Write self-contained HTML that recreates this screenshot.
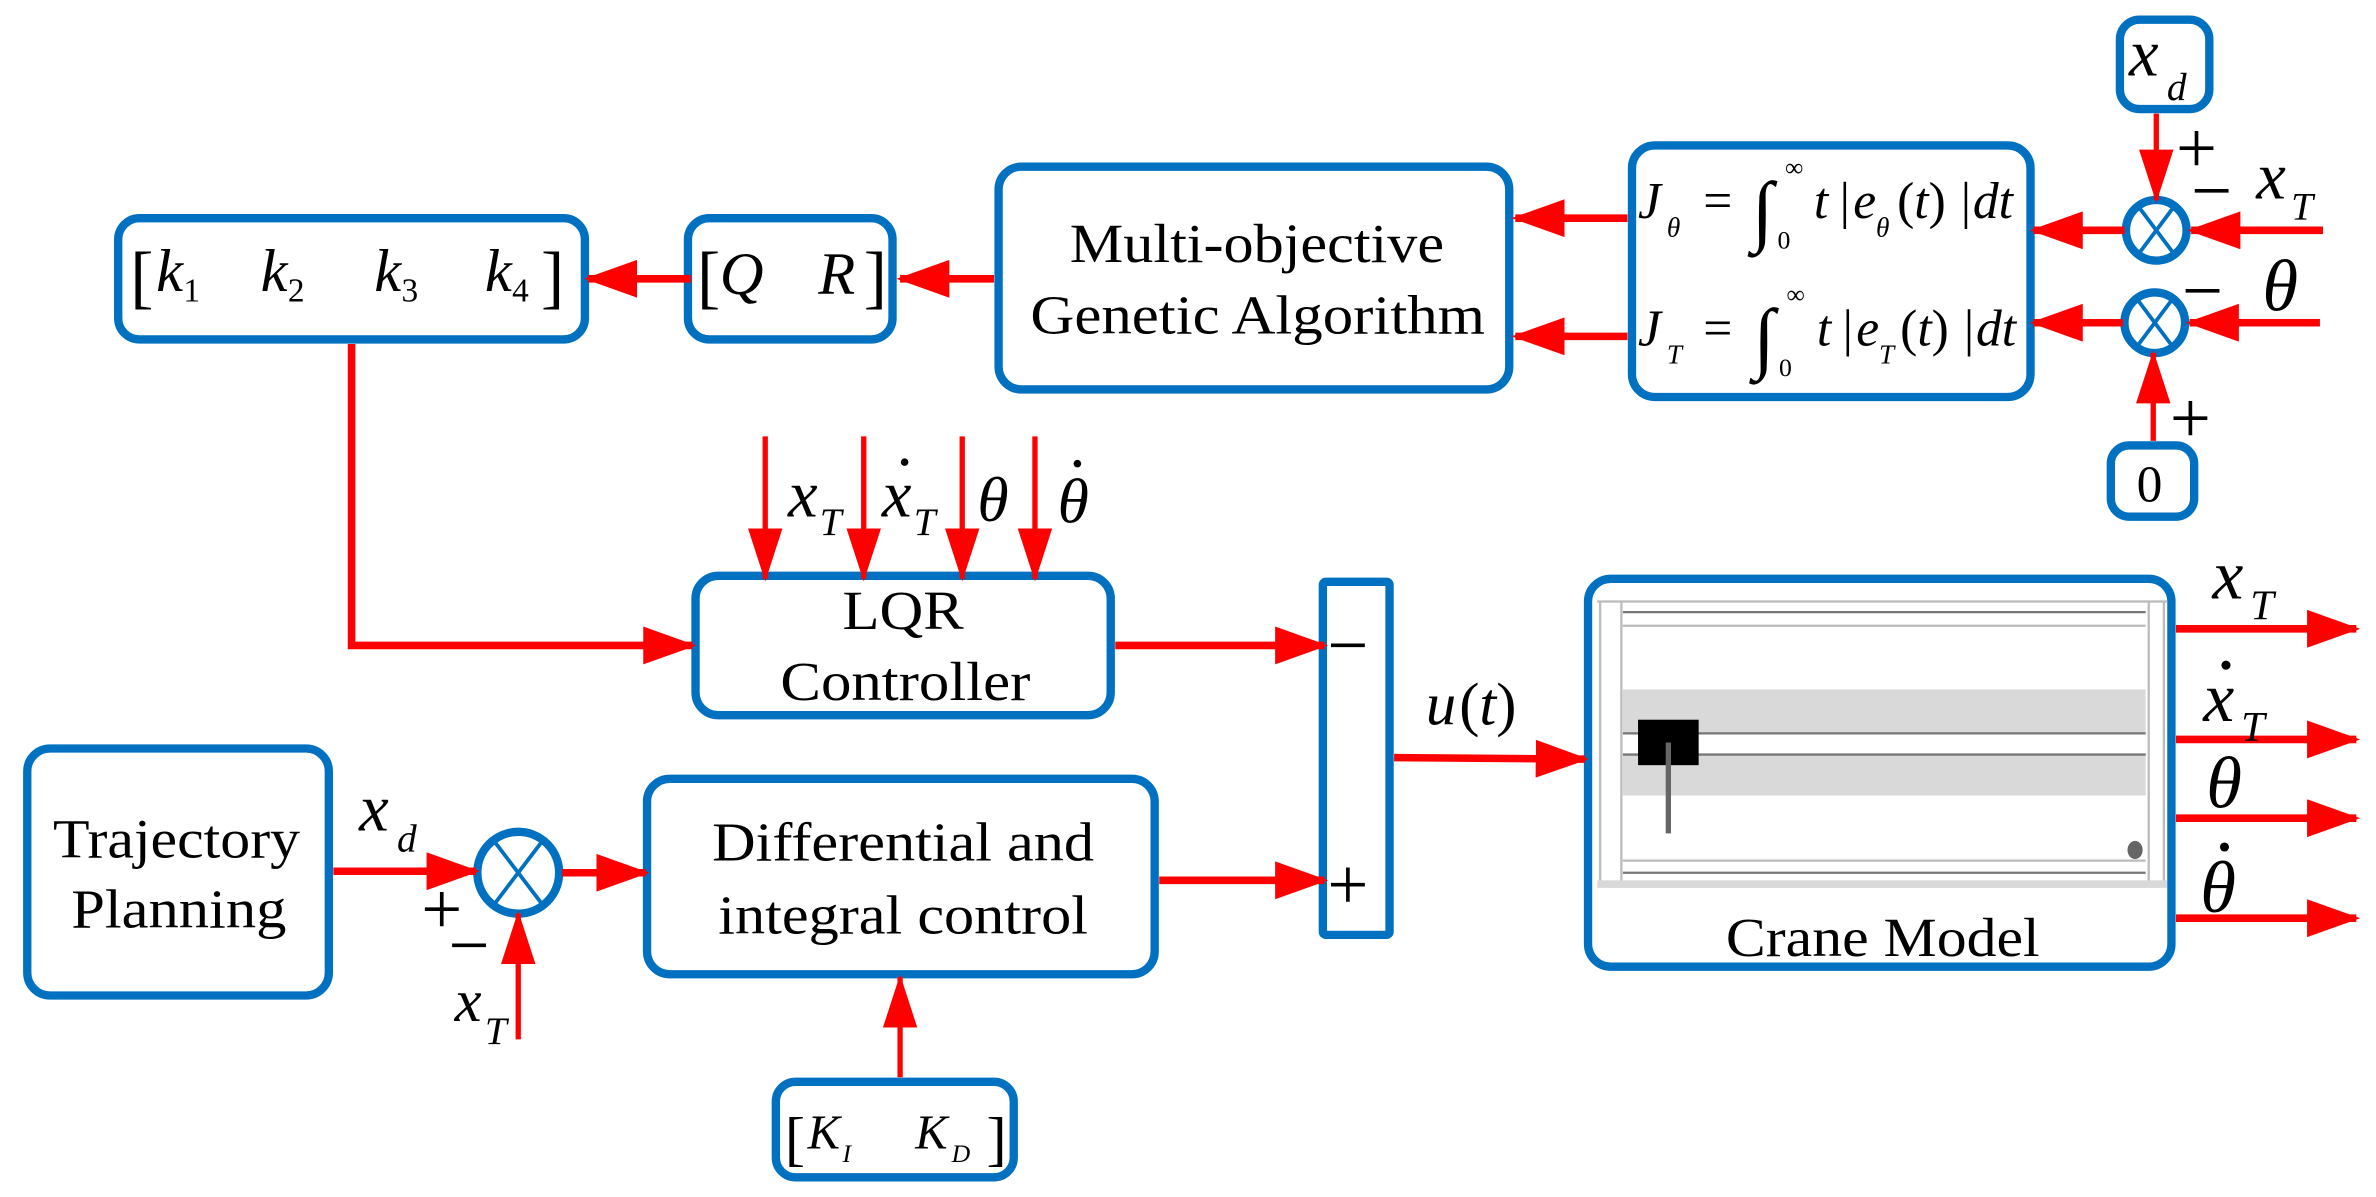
<!DOCTYPE html>
<html><head><meta charset="utf-8"><style>
html,body{margin:0;padding:0;background:#fff;}
svg{display:block;font-family:"Liberation Serif","Times New Roman",Times,"DejaVu Serif",serif;}
svg text{font-family:"Liberation Serif","Times New Roman",Times,"DejaVu Serif",serif;fill:#000;}
.i{font-style:italic;}
</style></head><body>
<svg width="2376" height="1197" viewBox="0 0 1568 790" preserveAspectRatio="none" xmlns="http://www.w3.org/2000/svg">
<defs>
<marker id="a" markerWidth="7" markerHeight="5" refX="6.5" refY="2.5" orient="auto" markerUnits="strokeWidth"><path d="M0,0 L7,2.5 L0,5 Z" fill="#f00"/></marker>
<marker id="b" markerWidth="10" markerHeight="6.5" refX="9.5" refY="3.25" orient="auto" markerUnits="strokeWidth"><path d="M0,0 L10,3.25 L0,6.5 Z" fill="#f00"/></marker>
</defs>
<g fill="none" stroke="#0070c0" stroke-width="5.5">
<rect x="78" y="144" width="308" height="80" rx="14"/>
<rect x="454" y="144" width="135" height="80" rx="14"/>
<rect x="659" y="110" width="337" height="147" rx="15"/>
<rect x="1077" y="96" width="263" height="166" rx="15"/>
<rect x="1399" y="13" width="59" height="59" rx="13"/>
<rect x="1393" y="294" width="55" height="47" rx="12"/>
<rect x="459" y="380" width="274" height="92" rx="15"/>
<rect x="18" y="494" width="199" height="163" rx="15"/>
<rect x="427" y="514" width="335" height="129" rx="15"/>
<rect x="512" y="714" width="157" height="63" rx="13"/>
<rect x="873" y="384" width="44" height="233" rx="2"/>
<rect x="1048" y="382" width="385" height="256" rx="15"/>
<circle cx="1423" cy="152" r="20"/>
<circle cx="1422" cy="213" r="20"/>
<circle cx="342" cy="576" r="27"/>
</g>
<g stroke="#0070c0" stroke-width="2.5">
<path d="M1411,136 L1435,168 M1435,136 L1411,168"/>
<path d="M1410,197 L1434,229 M1434,197 L1410,229"/>
<path d="M326,555 L358,597 M358,555 L326,597"/>
</g>
<g>
<rect x="1054" y="396" width="376" height="190" fill="#fff"/>
<rect x="1071" y="455" width="345" height="70" fill="#d9d9d9"/>
<rect x="1071" y="484" width="345" height="14" fill="#fff"/>
<g stroke="#777" stroke-width="1.5">
<line x1="1071" y1="484" x2="1416" y2="484"/><line x1="1071" y1="498" x2="1416" y2="498"/>
<line x1="1071" y1="404" x2="1416" y2="404"/><line x1="1071" y1="576" x2="1416" y2="576"/>
</g>
<g stroke="#bbb" stroke-width="1.5">
<line x1="1054" y1="397" x2="1430" y2="397"/><line x1="1071" y1="413" x2="1416" y2="413"/>
<line x1="1071" y1="568" x2="1416" y2="568"/>
<line x1="1056" y1="397" x2="1056" y2="584"/><line x1="1070" y1="397" x2="1070" y2="584"/>
<line x1="1418" y1="397" x2="1418" y2="584"/><line x1="1428" y1="397" x2="1428" y2="584"/>
</g>
<rect x="1054" y="581" width="376" height="5" fill="#d9d9d9"/>
<rect x="1081" y="475" width="40" height="30" fill="#000"/>
<line x1="1101" y1="490" x2="1101" y2="550" stroke="#666" stroke-width="3.5"/>
<ellipse cx="1409" cy="561" rx="5" ry="6" fill="#666"/>
</g>
<g stroke="#f00" stroke-width="5" fill="none">
<line x1="456" y1="184" x2="388" y2="184" marker-end="url(#a)"/>
<line x1="656" y1="184" x2="594" y2="184" marker-end="url(#a)"/>
<line x1="1074" y1="144" x2="1000" y2="144" marker-end="url(#a)"/>
<line x1="1074" y1="222" x2="1000" y2="222" marker-end="url(#a)"/>
<line x1="1402" y1="152" x2="1342" y2="152" marker-end="url(#a)"/>
<line x1="1401" y1="213" x2="1342" y2="213" marker-end="url(#a)"/>
<line x1="1533" y1="152" x2="1446" y2="152" marker-end="url(#a)"/>
<line x1="1531" y1="213" x2="1445" y2="213" marker-end="url(#a)"/>
<polyline points="232,227 232,426 457,426" marker-end="url(#a)"/>
<line x1="736" y1="426" x2="874" y2="426" marker-end="url(#a)"/>
<line x1="765" y1="581" x2="874" y2="581" marker-end="url(#a)"/>
<line x1="920" y1="500" x2="1046" y2="501" marker-end="url(#a)"/>
<line x1="220" y1="575" x2="314" y2="575" marker-end="url(#a)"/>
<line x1="371" y1="576" x2="426" y2="576" marker-end="url(#a)"/>
<line x1="1436" y1="415" x2="1555" y2="415" marker-end="url(#a)"/>
<line x1="1436" y1="488" x2="1555" y2="488" marker-end="url(#a)"/>
<line x1="1436" y1="540" x2="1555" y2="540" marker-end="url(#a)"/>
<line x1="1436" y1="606" x2="1555" y2="606" marker-end="url(#a)"/>
</g>
<g stroke="#f00" stroke-width="3.5" fill="none">
<line x1="505" y1="288" x2="505" y2="382" marker-end="url(#b)"/>
<line x1="570" y1="288" x2="570" y2="382" marker-end="url(#b)"/>
<line x1="635" y1="288" x2="635" y2="382" marker-end="url(#b)"/>
<line x1="683" y1="288" x2="683" y2="382" marker-end="url(#b)"/>
<line x1="1423" y1="75" x2="1423" y2="132" marker-end="url(#b)"/>
<line x1="1421" y1="291" x2="1421" y2="233" marker-end="url(#b)"/>
<line x1="342" y1="686" x2="342" y2="603" marker-end="url(#b)"/>
<line x1="594" y1="711" x2="594" y2="645" marker-end="url(#b)"/>
</g>
<g font-size="36">
<text x="706" y="173" textLength="247" lengthAdjust="spacingAndGlyphs">Multi-objective</text>
<text x="680" y="220" textLength="300" lengthAdjust="spacingAndGlyphs">Genetic Algorithm</text>
<text x="556" y="415" textLength="80" lengthAdjust="spacingAndGlyphs">LQR</text>
<text x="515" y="462" textLength="165" lengthAdjust="spacingAndGlyphs">Controller</text>
<text x="35" y="566" textLength="163" lengthAdjust="spacingAndGlyphs">Trajectory</text>
<text x="47" y="612" textLength="142" lengthAdjust="spacingAndGlyphs">Planning</text>
<text x="470" y="568" textLength="252" lengthAdjust="spacingAndGlyphs">Differential and</text>
<text x="474" y="616" textLength="244" lengthAdjust="spacingAndGlyphs">integral control</text>
<text x="1139" y="631" textLength="207" lengthAdjust="spacingAndGlyphs">Crane Model</text>
</g>
<g font-size="40">
<text x="86" y="198" font-size="46">[</text>
<text x="103" y="192" class="i">k</text><text x="121" y="199" font-size="22">1</text>
<text x="172" y="192" class="i">k</text><text x="190" y="199" font-size="22">2</text>
<text x="247" y="192" class="i">k</text><text x="265" y="199" font-size="22">3</text>
<text x="320" y="192" class="i">k</text><text x="338" y="199" font-size="22">4</text>
<text x="357" y="198" font-size="46">]</text>
<text x="460" y="198" font-size="46">[</text>
<text x="475" y="194" class="i">Q</text>
<text x="540" y="194" class="i">R</text>
<text x="570" y="198" font-size="46">]</text>
<text x="518" y="765" font-size="40">[</text>
<text x="533" y="758" class="i" font-size="32">K</text><text x="556" y="767" class="i" font-size="17">I</text>
<text x="604" y="758" class="i" font-size="32">K</text><text x="628" y="767" class="i" font-size="17">D</text>
<text x="651" y="765" font-size="40">]</text>
</g>
<g font-size="34">
<text x="1081" y="144" class="i">J</text><text x="1100" y="156" class="i" font-size="18">θ</text>
<text x="1124" y="144">=</text>
<text x="1156" y="156" class="i" font-size="52">∫</text>
<text x="1178" y="116" font-size="17">∞</text><text x="1173" y="164" font-size="17">0</text>
<text x="1197" y="144" class="i">t</text>
<text x="1214" y="144">|</text>
<text x="1223" y="144" class="i">e</text><text x="1238" y="156" class="i" font-size="18">θ</text>
<text x="1252" y="144">(<tspan class="i">t</tspan>)</text>
<text x="1294" y="144">|</text>
<text x="1302" y="144" class="i">dt</text>
<text x="1081" y="228" class="i">J</text><text x="1100" y="240" class="i" font-size="18">T</text>
<text x="1124" y="228">=</text>
<text x="1157" y="240" class="i" font-size="52">∫</text>
<text x="1179" y="200" font-size="17">∞</text><text x="1174" y="248" font-size="17">0</text>
<text x="1199" y="228" class="i">t</text>
<text x="1216" y="228">|</text>
<text x="1225" y="228" class="i">e</text><text x="1240" y="240" class="i" font-size="18">T</text>
<text x="1254" y="228">(<tspan class="i">t</tspan>)</text>
<text x="1296" y="228">|</text>
<text x="1304" y="228" class="i">dt</text>
</g>
<g>
<text x="1405" y="50" font-size="44" class="i">x</text><text x="1430" y="66" font-size="26" class="i">d</text>
<text x="1489" y="131" font-size="44" class="i">x</text><text x="1512" y="145" font-size="26" class="i">T</text>
<text x="1493" y="205" font-size="48" class="i">θ</text>
<text x="1410" y="331" font-size="34">0</text>
<text x="520" y="341" font-size="44" class="i">x</text><text x="541" y="353" font-size="26" class="i">T</text>
<text x="582" y="341" font-size="44" class="i">x</text><text x="603" y="353" font-size="26" class="i">T</text>
<circle cx="597" cy="305" r="2.5"/>
<text x="645" y="344" font-size="42" class="i">θ</text>
<text x="698" y="345" font-size="42" class="i">θ</text><circle cx="711" cy="306" r="2.5"/>
<text x="237" y="548" font-size="44" class="i">x</text><text x="262" y="562" font-size="26" class="i">d</text>
<text x="300" y="674" font-size="40" class="i">x</text><text x="320" y="689" font-size="26" class="i">T</text>
<text x="941" y="478" font-size="40" class="i">u</text><text x="963" y="478" font-size="40">(<tspan class="i">t</tspan>)</text>
<text x="1460" y="395" font-size="46" class="i">x</text><text x="1485" y="409" font-size="28" class="i">T</text>
<text x="1454" y="476" font-size="46" class="i">x</text><text x="1479" y="489" font-size="28" class="i">T</text>
<circle cx="1469" cy="439" r="3"/>
<text x="1456" y="533" font-size="48" class="i">θ</text>
<text x="1452" y="602" font-size="48" class="i">θ</text><circle cx="1468" cy="559" r="3"/>
</g>
<g font-size="48">
<text x="1436" y="114">+</text>
<text x="1446" y="142">−</text>
<text x="1440" y="208">−</text>
<text x="1432" y="292">+</text>
<text x="876" y="442">−</text>
<text x="876" y="600">+</text>
<text x="278" y="616">+</text>
<text x="296" y="640">−</text>
</g>
</svg>
</body></html>
